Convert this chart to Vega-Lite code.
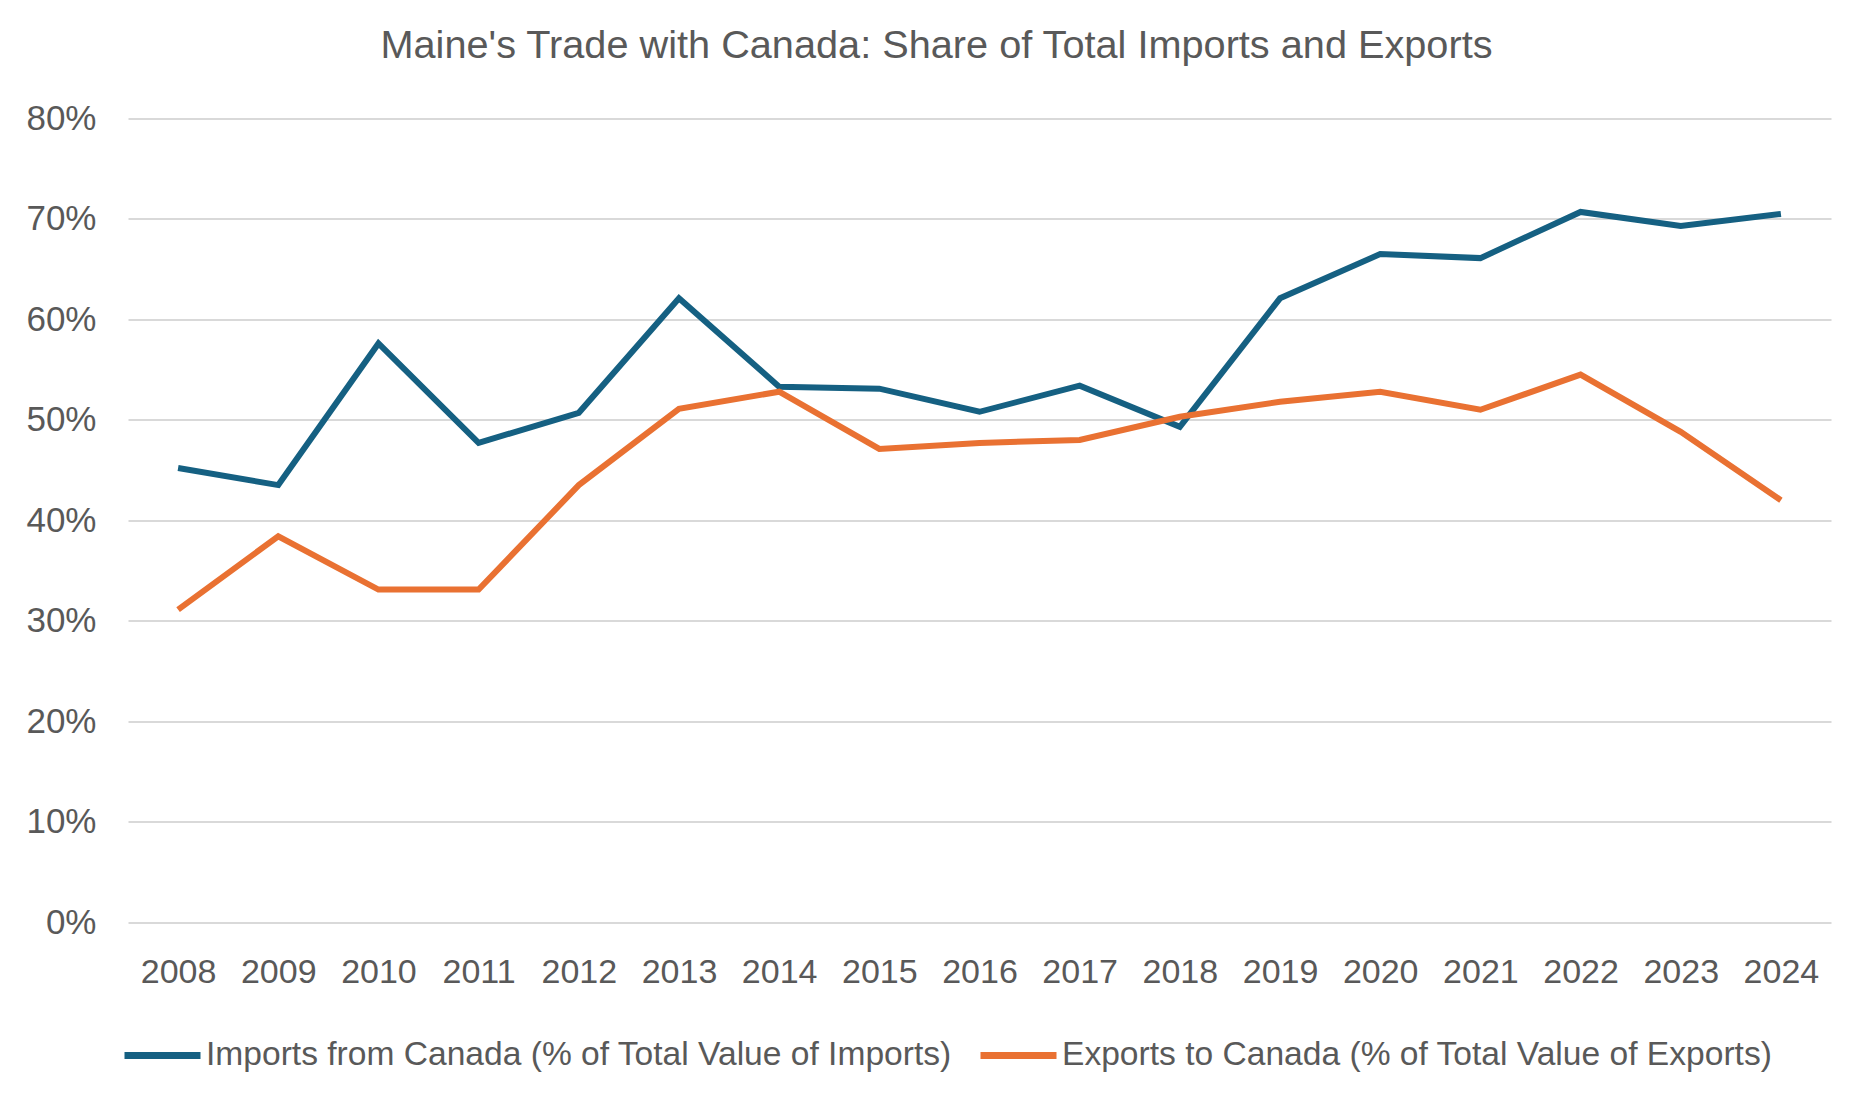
{
  "$schema": "https://vega.github.io/schema/vega-lite/v6.json",
  "width": 1703,
  "height": 803.5,
  "autosize": {"type": "none"},
  "padding": {"left": 128, "top": 118.5, "right": 27, "bottom": 172},
  "background": "white",
  "config": {"view": {"stroke": null}},
  "title": {
    "text": "Maine's Trade with Canada: Share of Total Imports and Exports",
    "font": "Liberation Sans",
    "fontSize": 39.7,
    "fontWeight": "normal",
    "color": "#595959",
    "anchor": "middle",
    "dx": -43,
    "offset": 35
  },
  "data": {
    "values": [
      {"year": "2008", "series": "Imports from Canada (% of Total Value of Imports)", "value": 45.2},
      {"year": "2009", "series": "Imports from Canada (% of Total Value of Imports)", "value": 43.5},
      {"year": "2010", "series": "Imports from Canada (% of Total Value of Imports)", "value": 57.6},
      {"year": "2011", "series": "Imports from Canada (% of Total Value of Imports)", "value": 47.7},
      {"year": "2012", "series": "Imports from Canada (% of Total Value of Imports)", "value": 50.7},
      {"year": "2013", "series": "Imports from Canada (% of Total Value of Imports)", "value": 62.1},
      {"year": "2014", "series": "Imports from Canada (% of Total Value of Imports)", "value": 53.3},
      {"year": "2015", "series": "Imports from Canada (% of Total Value of Imports)", "value": 53.1},
      {"year": "2016", "series": "Imports from Canada (% of Total Value of Imports)", "value": 50.8},
      {"year": "2017", "series": "Imports from Canada (% of Total Value of Imports)", "value": 53.4},
      {"year": "2018", "series": "Imports from Canada (% of Total Value of Imports)", "value": 49.3},
      {"year": "2019", "series": "Imports from Canada (% of Total Value of Imports)", "value": 62.1},
      {"year": "2020", "series": "Imports from Canada (% of Total Value of Imports)", "value": 66.5},
      {"year": "2021", "series": "Imports from Canada (% of Total Value of Imports)", "value": 66.1},
      {"year": "2022", "series": "Imports from Canada (% of Total Value of Imports)", "value": 70.7},
      {"year": "2023", "series": "Imports from Canada (% of Total Value of Imports)", "value": 69.3},
      {"year": "2024", "series": "Imports from Canada (% of Total Value of Imports)", "value": 70.5},
      {"year": "2008", "series": "Exports to Canada (% of Total Value of Exports)", "value": 31.1},
      {"year": "2009", "series": "Exports to Canada (% of Total Value of Exports)", "value": 38.4},
      {"year": "2010", "series": "Exports to Canada (% of Total Value of Exports)", "value": 33.1},
      {"year": "2011", "series": "Exports to Canada (% of Total Value of Exports)", "value": 33.1},
      {"year": "2012", "series": "Exports to Canada (% of Total Value of Exports)", "value": 43.5},
      {"year": "2013", "series": "Exports to Canada (% of Total Value of Exports)", "value": 51.1},
      {"year": "2014", "series": "Exports to Canada (% of Total Value of Exports)", "value": 52.8},
      {"year": "2015", "series": "Exports to Canada (% of Total Value of Exports)", "value": 47.1},
      {"year": "2016", "series": "Exports to Canada (% of Total Value of Exports)", "value": 47.7},
      {"year": "2017", "series": "Exports to Canada (% of Total Value of Exports)", "value": 48.0},
      {"year": "2018", "series": "Exports to Canada (% of Total Value of Exports)", "value": 50.3},
      {"year": "2019", "series": "Exports to Canada (% of Total Value of Exports)", "value": 51.8},
      {"year": "2020", "series": "Exports to Canada (% of Total Value of Exports)", "value": 52.8},
      {"year": "2021", "series": "Exports to Canada (% of Total Value of Exports)", "value": 51.0},
      {"year": "2022", "series": "Exports to Canada (% of Total Value of Exports)", "value": 54.5},
      {"year": "2023", "series": "Exports to Canada (% of Total Value of Exports)", "value": 48.8},
      {"year": "2024", "series": "Exports to Canada (% of Total Value of Exports)", "value": 42.0}
    ]
  },
  "mark": {"type": "line", "strokeWidth": 6},
  "encoding": {
    "x": {
      "field": "year",
      "type": "ordinal",
      "scale": {"type": "point", "padding": 0.5},
      "axis": {
        "title": null,
        "labelAngle": 0,
        "domain": false,
        "ticks": false,
        "grid": false,
        "labelFont": "Liberation Sans",
        "labelFontSize": 34,
        "labelColor": "#595959",
        "labelPadding": 33
      }
    },
    "y": {
      "field": "value",
      "type": "quantitative",
      "scale": {"domain": [0, 80]},
      "axis": {
        "title": null,
        "values": [0, 10, 20, 30, 40, 50, 60, 70, 80],
        "labelExpr": "datum.value + '%'",
        "domain": false,
        "ticks": false,
        "grid": true,
        "gridColor": "#D9D9D9",
        "gridWidth": 2,
        "labelFont": "Liberation Sans",
        "labelFontSize": 35,
        "labelColor": "#595959",
        "labelPadding": 32
      }
    },
    "color": {
      "field": "series",
      "type": "nominal",
      "sort": null,
      "scale": {
        "domain": ["Imports from Canada (% of Total Value of Imports)", "Exports to Canada (% of Total Value of Exports)"],
        "range": ["#156082", "#E97132"]
      },
      "legend": {
        "orient": "none",
        "legendX": -7,
        "legendY": 895,
        "direction": "horizontal",
        "title": null,
        "symbolType": "stroke",
        "symbolSize": 5776,
        "symbolStrokeWidth": 7,
        "labelFont": "Liberation Sans",
        "labelFontSize": 33.6,
        "labelColor": "#595959",
        "labelOffset": 2,
        "labelLimit": 0,
        "columnPadding": 14,
        "padding": 0
      }
    }
  }
}
